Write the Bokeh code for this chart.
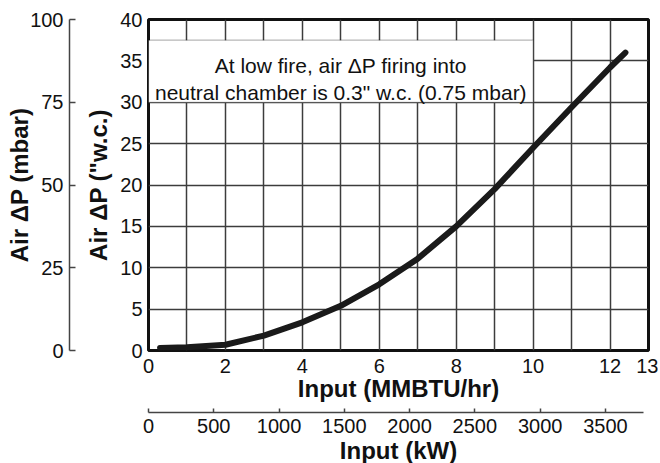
from bokeh.plotting import figure
from bokeh.models import Range1d, LinearAxis, FixedTicker, BoxAnnotation, Label
from bokeh.embed import file_html
from bokeh.resources import INLINE

# ---- data ----
input_mmbtu = [0.3, 1, 2, 3, 4, 5, 6, 7, 8, 9, 10, 11, 12, 12.4]
air_dp_wc = [0.3, 0.4, 0.7, 1.8, 3.4, 5.4, 8.0, 11.1, 15.0, 19.5, 24.5, 29.4, 34.2, 36.0]

x_tick_labels = [0, 2, 4, 6, 8, 10, 12, 13]
x_grid_ticks = [0, 1, 2, 3, 4, 5, 6, 7, 8, 9, 10, 11, 12, 13]
y_ticks = [0, 5, 10, 15, 20, 25, 30, 35, 40]
mbar_ticks = [0, 25, 50, 75, 100]
kw_ticks = [0, 500, 1000, 1500, 2000, 2500, 3000, 3500]

note_lines = ["At low fire, air \u0394P firing into",
              'neutral chamber is 0.3" w.c. (0.75 mbar)']

FONT = "Liberation Sans"
TXT = "#111111"

p = figure(frame_width=500, frame_height=331,
           x_range=Range1d(0, 13), y_range=Range1d(0, 40),
           output_backend="svg", toolbar_location=None,
           min_border_left=148, min_border_top=19, min_border_right=10,
           min_border_bottom=0)
p.background_fill_color = "white"
p.border_fill_color = "white"
p.outline_line_color = "#111111"
p.outline_line_width = 3

p.extra_y_ranges = {"mbar": Range1d(0, 100)}
p.extra_x_ranges = {"kw": Range1d(0, 3830)}

# grid
p.xgrid.ticker = FixedTicker(ticks=x_grid_ticks)
p.ygrid.ticker = FixedTicker(ticks=y_ticks)
for g in (p.xgrid, p.ygrid):
    g.grid_line_color = "#3c3c3c"
    g.grid_line_width = 1.5
    g.grid_line_alpha = 1.0


def style_axis(ax, label_size="20px", title_size="24px"):
    ax.major_label_text_font = FONT
    ax.major_label_text_font_size = label_size
    ax.major_label_text_color = TXT
    ax.axis_label_text_font = FONT
    ax.axis_label_text_font_size = title_size
    ax.axis_label_text_font_style = "bold"
    ax.axis_label_text_color = TXT
    ax.minor_tick_line_color = None
    ax.minor_tick_in = 0
    ax.minor_tick_out = 0


def make_spacer(range_kw, size_px, standoff):
    s = LinearAxis(ticker=FixedTicker(ticks=[]), axis_label=" ", **range_kw)
    s.axis_line_color = None
    s.major_tick_line_color = None
    s.minor_tick_line_color = None
    s.major_tick_in = 0
    s.major_tick_out = 0
    s.minor_tick_in = 0
    s.minor_tick_out = 0
    s.major_label_standoff = 0
    s.axis_label_text_font_size = size_px
    s.axis_label_text_alpha = 0
    s.axis_label_standoff = standoff
    return s


# main x axis
xa = p.xaxis[0]
xa.ticker = FixedTicker(ticks=x_tick_labels)
xa.axis_label = "Input (MMBTU/hr)"
style_axis(xa)
xa.axis_line_color = None
xa.major_tick_line_color = None
xa.major_tick_in = 0
xa.major_tick_out = 0
xa.major_label_standoff = 8
xa.axis_label_standoff = -1

# main y axis
ya = p.yaxis[0]
ya.ticker = FixedTicker(ticks=y_ticks)
ya.axis_label = 'Air \u0394P ("w.c.)'
style_axis(ya)
ya.axis_line_color = None
ya.major_tick_line_color = None
ya.major_tick_in = 0
ya.major_tick_out = 0
ya.major_label_standoff = 6
ya.axis_label_standoff = 5

# spacer between the two left axes
p.add_layout(make_spacer({"y_range_name": "mbar"}, "6px", 4), "left")

# mbar axis
mb = LinearAxis(y_range_name="mbar", ticker=FixedTicker(ticks=mbar_ticks),
                axis_label="Air \u0394P (mbar)")
style_axis(mb)
mb.axis_line_color = "#444444"
mb.axis_line_width = 1.5
mb.major_tick_line_color = "#444444"
mb.major_tick_line_width = 1.5
mb.major_tick_in = 6
mb.major_tick_out = 0
mb.major_label_standoff = 6
mb.axis_label_standoff = -6
p.add_layout(mb, "left")

# spacer between the two bottom axes
p.add_layout(make_spacer({"x_range_name": "kw"}, "2px", 3), "below")

# kW axis
kw = LinearAxis(x_range_name="kw", ticker=FixedTicker(ticks=kw_ticks),
                axis_label="Input (kW)", bounds=(0, 3790))
style_axis(kw)
kw.axis_line_color = "#444444"
kw.axis_line_width = 1.5
kw.major_tick_line_color = "#444444"
kw.major_tick_line_width = 1.5
kw.major_tick_in = 4
kw.major_tick_out = 0
kw.major_label_standoff = 6
kw.axis_label_standoff = 1
p.add_layout(kw, "below")

# annotation box
box = BoxAnnotation(left=0, right=10, bottom=30, top=37.5,
                    fill_color="white", fill_alpha=1.0,
                    line_color="#111111", line_width=1.2)
p.add_layout(box)
for txt, yb in zip(note_lines, [34.5, 31.2]):
    p.add_layout(Label(x=5, y=yb, text=txt, text_align="center",
                       text_baseline="alphabetic", text_font=FONT,
                       text_font_size="21px", text_color=TXT))

# curve
p.line(input_mmbtu, air_dp_wc, line_color="#1a1a1a", line_width=6,
       line_cap="round", line_join="round")

open("out.html", "w").write(file_html(p, INLINE))
